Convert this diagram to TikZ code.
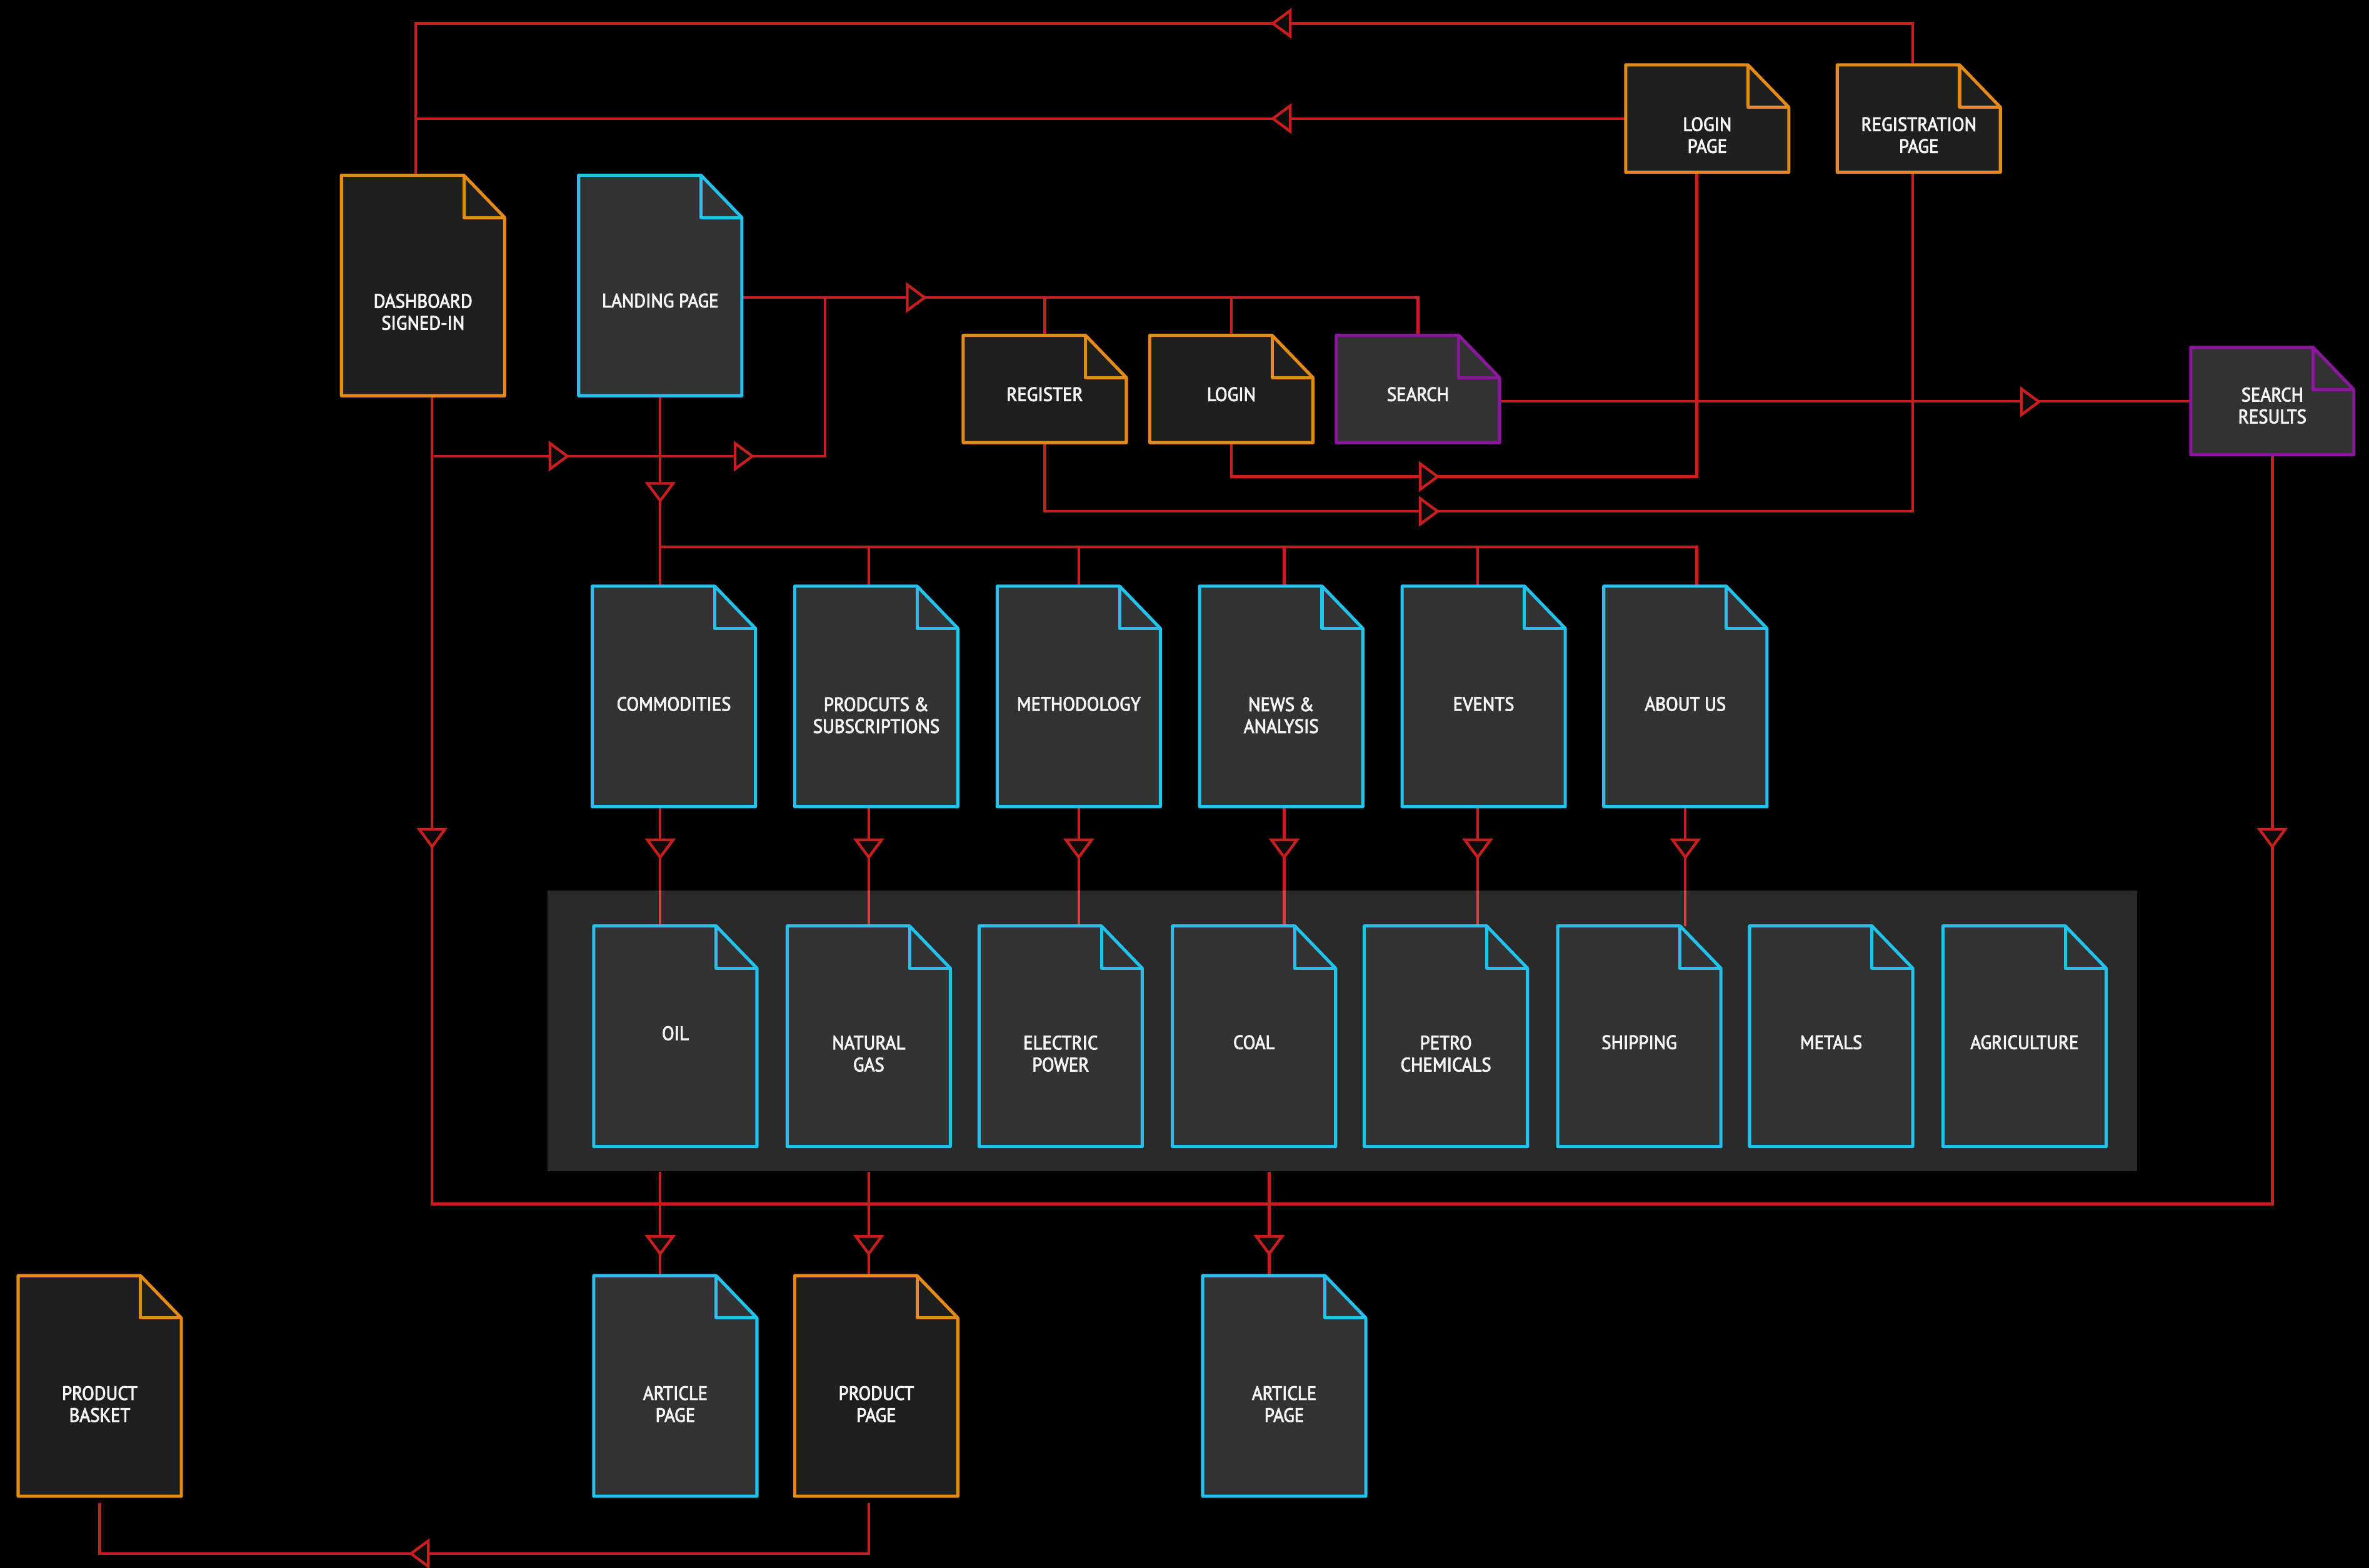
\documentclass[tikz,border=0pt]{standalone}
\usepackage{fontspec}
\newfontfamily\lblfont[FakeStretch=0.93,FakeBold=3]{PT Sans}
\usetikzlibrary{calc}
\definecolor{cred}{HTML}{C81E1E}
\definecolor{cblue}{HTML}{22C2EC}
\definecolor{corange}{HTML}{E48A17}
\definecolor{cpurple}{HTML}{8C169E}
\definecolor{cfillA}{HTML}{333333}
\definecolor{cfillB}{HTML}{1F1F1F}
\definecolor{carrfill}{HTML}{0B0B0B}
\definecolor{ctext}{HTML}{F4F4F4}
\pgfdeclarelayer{bg}\pgfdeclarelayer{mid}\pgfsetlayers{bg,mid,main}
\newcommand\doc[6]{%
  \node[docbox, minimum height=#4] (#1) at (#2,#3) {};
  \filldraw[docline, draw=#5, fill=#6] (#1.south west) -- (#1.north west) -- ([xshift=-27]#1.north east) -- ([yshift=-28]#1.north east) -- (#1.south east) -- cycle;
  \draw[docline, draw=#5] ([xshift=-27]#1.north east) -- ([xshift=-27,yshift=-28]#1.north east) -- ([yshift=-28]#1.north east);
}
\newcommand\tri[3]{\filldraw[arrst, shift={(#1,#2)}, rotate=#3] (0,0) -- (-11.5,8.5) -- (-11.5,-8.5) -- cycle;}
\begin{document}
\begin{tikzpicture}[x=1pt, y=-1pt,
  docbox/.style={rectangle, draw=none, inner sep=0pt, outer sep=0pt, minimum width=108},
  docline/.style={line width=2.1pt, line join=round},
  conn/.style={draw=cred, line width=1.8pt},
  arrst/.style={draw=cred, fill=carrfill, line width=1.8pt},
  lbl/.style={text=ctext, inner sep=0pt, align=center, font=\lblfont\fontsize{12.8}{14.5}\selectfont},
  panelst/.style={rectangle, fill=white, fill opacity=0.165, draw=none, inner sep=0pt, minimum width=1052, minimum height=186}]
\useasboundingbox (0,0) rectangle (1568,1038);
\begin{pgfonlayer}{bg}
\fill[black] (0,0) rectangle (1568,1038);
\end{pgfonlayer}
\begin{pgfonlayer}{mid}
\node[panelst] (panel) at (888.45,682.5) {};
\end{pgfonlayer}
% documents
\doc{dash}{280}{189}{146}{corange}{cfillB}
\doc{land}{437}{189}{146}{cblue}{cfillA}
\doc{loginp}{1130}{78.5}{71}{corange}{cfillB}
\doc{regp}{1270}{78.5}{71}{corange}{cfillB}
\doc{reg}{691.5}{257.5}{71}{corange}{cfillB}
\doc{login}{815}{257.5}{71}{corange}{cfillB}
\doc{search}{938.5}{257.5}{71}{cpurple}{cfillA}
\doc{sres}{1504}{265.5}{71}{cpurple}{cfillA}
\doc{comm}{446}{461}{146}{cblue}{cfillA}
\doc{prod}{580}{461}{146}{cblue}{cfillA}
\doc{meth}{714}{461}{146}{cblue}{cfillA}
\doc{news}{848}{461}{146}{cblue}{cfillA}
\doc{events}{982}{461}{146}{cblue}{cfillA}
\doc{about}{1115.5}{461}{146}{cblue}{cfillA}
\doc{oil}{447}{686}{146}{cblue}{cfillA}
\doc{gas}{575}{686}{146}{cblue}{cfillA}
\doc{elec}{702}{686}{146}{cblue}{cfillA}
\doc{coal}{830}{686}{146}{cblue}{cfillA}
\doc{petro}{957}{686}{146}{cblue}{cfillA}
\doc{ship}{1085}{686}{146}{cblue}{cfillA}
\doc{metals}{1212}{686}{146}{cblue}{cfillA}
\doc{agri}{1340}{686}{146}{cblue}{cfillA}
\doc{basket}{66}{917.5}{146}{corange}{cfillB}
\doc{art1}{447}{917.5}{146}{cblue}{cfillA}
\doc{prodp}{580}{917.5}{146}{corange}{cfillB}
\doc{art2}{850}{917.5}{146}{cblue}{cfillA}
% labels
\node[lbl] (dash-t) at (280,206.5) {DASHBOARD\\SIGNED-IN};
\node[lbl] (land-t) at (437,199) {LANDING PAGE};
\node[lbl] (loginp-t) at (1130,89.5) {LOGIN\\PAGE};
\node[lbl] (regp-t) at (1270,89.5) {REGISTRATION\\PAGE};
\node[lbl] (reg-t) at (691.5,261) {REGISTER};
\node[lbl] (login-t) at (815,261) {LOGIN};
\node[lbl] (search-t) at (938.5,261) {SEARCH};
\node[lbl] (sres-t) at (1504,268.5) {SEARCH\\RESULTS};
\node[lbl] (comm-t) at (446,466) {COMMODITIES};
\node[lbl] (prod-t) at (580,473.5) {PRODCUTS \&\\SUBSCRIPTIONS};
\node[lbl] (meth-t) at (714,466) {METHODOLOGY};
\node[lbl] (news-t) at (848,473.5) {NEWS \&\\ANALYSIS};
\node[lbl] (events-t) at (982,466) {EVENTS};
\node[lbl] (about-t) at (1115.5,466) {ABOUT US};
\node[lbl] (oil-t) at (447,684) {OIL};
\node[lbl] (gas-t) at (575,697.5) {NATURAL\\GAS};
\node[lbl] (elec-t) at (702,697.5) {ELECTRIC\\POWER};
\node[lbl] (coal-t) at (830,690) {COAL};
\node[lbl] (petro-t) at (957,697.5) {PETRO\\CHEMICALS};
\node[lbl] (ship-t) at (1085,690) {SHIPPING};
\node[lbl] (metals-t) at (1212,690) {METALS};
\node[lbl] (agri-t) at (1340,690) {AGRICULTURE};
\node[lbl] (basket-t) at (66,929.5) {PRODUCT\\BASKET};
\node[lbl] (art1-t) at (447,929.5) {ARTICLE\\PAGE};
\node[lbl] (prodp-t) at (580,929.5) {PRODUCT\\PAGE};
\node[lbl] (art2-t) at (850,929.5) {ARTICLE\\PAGE};
% connectors
\begin{pgfonlayer}{bg}
\coordinate (a1top) at ([xshift=-10]art1.north);
\coordinate (pptop) at ([xshift=-5]prodp.north);
\coordinate (a2top) at ([xshift=-10]art2.north);
\draw[conn] ([xshift=-4]regp.north) -- (1266,15.5) -- (275,15.5) -- ([xshift=-5]dash.north);
\draw[conn] (loginp.west) -- (275,78.5);
\draw[conn] ([yshift=-8]land.east) -- (938.5,197) -- (search.north);
\draw[conn] (691.5,197) -- (reg.north);
\draw[conn] (815,197) -- (login.north);
\draw[conn] (287,302) -- (546,302) -- (546,197);
\draw[conn] ([xshift=6]dash.south) -- (286,797) -- (1504,797) -- (sres.south);
\draw[conn] (land.south) -- ([xshift=-9]comm.north);
\draw[conn] (437,362) -- (1123,362) -- ([xshift=7.5]about.north);
\draw[conn] (575,362) -- ([xshift=-5]prod.north);
\draw[conn] (714,362) -- (meth.north);
\draw[conn] (850,362) -- ([xshift=2]news.north);
\draw[conn] (978,362) -- ([xshift=-4]events.north);
\draw[conn] ([xshift=-9]comm.south) -- ([xshift=-10]oil.north);
\draw[conn] ([xshift=-5]prod.south) -- (gas.north);
\draw[conn] (meth.south) -- ([xshift=12]elec.north);
\draw[conn] ([xshift=2]news.south) -- ([xshift=20]coal.north);
\draw[conn] ([xshift=-4]events.south) -- ([xshift=21]petro.north);
\draw[conn] (about.south) -- ([xshift=30.5]ship.north);
\draw[conn] (a1top |- panel.south) -- (a1top);
\draw[conn] (pptop |- panel.south) -- (pptop);
\draw[conn] (a2top |- panel.south) -- (a2top);
\draw[conn] (search.east |- sres.west) -- (sres.west);
\draw[conn] (login.south) -- (815,315.5) -- (1123,315.5) -- ([xshift=-7]loginp.south);
\draw[conn] (reg.south) -- (691.5,338.5) -- (1266,338.5) -- ([xshift=-4]regp.south);
\draw[conn] ([xshift=-5,yshift=-4.5]prodp.south) -- (575,1028.5) -- (66,1028.5) -- ([yshift=-4.5]basket.south);
% arrowheads
\tri{842.5}{15.5}{180}
\tri{842.5}{78.5}{180}
\tri{612}{197}{0}
\tri{375.5}{302}{0}
\tri{498}{302}{0}
\tri{437}{331.5}{-90}
\foreach \xx in {437,575,714,850,978,1115.5} {\tri{\xx}{567.5}{-90}}
\tri{286}{560.5}{-90}
\tri{1504}{560.5}{-90}
\foreach \xx in {437,575,840} {\tri{\xx}{830}{-90}}
\tri{1349.5}{266}{0}
\tri{951.5}{315.5}{0}
\tri{951.5}{338.5}{0}
\tri{272}{1028.5}{180}
\end{pgfonlayer}
\end{tikzpicture}
\end{document}
